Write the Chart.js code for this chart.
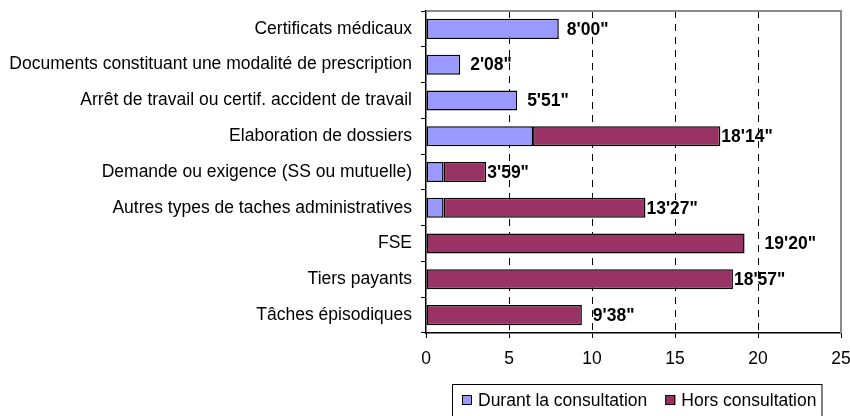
<!DOCTYPE html>
<html>
<head>
<meta charset="utf-8">
<script src="https://cdn.jsdelivr.net/npm/chart.js@4.4.0/dist/chart.umd.min.js"></script>
<style>
  html, body { margin: 0; padding: 0; background: #fff; }
  #wrap { width: 850px; height: 416px; }
</style>
</head>
<body>
<div id="wrap"><canvas id="myChart" width="850" height="416"></canvas></div>
<script>
const categories = [
  "Certificats médicaux",
  "Documents constituant une modalité de prescription",
  "Arrêt de travail ou certif. accident de travail",
  "Elaboration de dossiers",
  "Demande ou exigence (SS ou mutuelle)",
  "Autres types de taches administratives",
  "FSE",
  "Tiers payants",
  "Tâches épisodiques",
];
// minutes
const durant = [8.0, 2.06, 5.49, 6.45, 1.06, 1.06, 0, 0, 0];
const hors = [0, 0, 0, 11.28, 2.57, 12.16, 19.19, 18.49, 9.39];
const totalLabels = ["8'00\"", "2'08\"", "5'51\"", "18'14\"", "3'59\"", "13'27\"", "19'20\"", "18'57\"", "9'38\""];
const xTicks = [0, 5, 10, 15, 20, 25];

const FONT = "'Liberation Sans', Arial, sans-serif";
const FSIZE = 17.5;

// étiquettes des totaux au bout des barres
const totalsPlugin = {
  id: "totals",
  afterDatasetsDraw(chart, args, opts) {
    const ctx = chart.ctx;
    const x = chart.scales.x;
    const y = chart.scales.y;
    ctx.save();
    ctx.font = "bold " + FSIZE + "px " + FONT;
    ctx.fillStyle = "#000";
    ctx.textBaseline = "middle";
    ctx.textAlign = "left";
    for (let i = 0; i < categories.length; i++) {
      const end = x.getPixelForValue(durant[i] + hors[i]);
      ctx.fillText(totalLabels[i], end + opts.gaps[i], y.getPixelForValue(i) + 1);
    }
    ctx.restore();
  },
};

// bordure grise haut/droite de la zone de tracé
const framePlugin = {
  id: "frame",
  beforeDatasetsDraw(chart) {
    const a = chart.chartArea;
    const ctx = chart.ctx;
    ctx.save();
    ctx.strokeStyle = "#8c8c8c";
    ctx.lineWidth = 2;
    ctx.beginPath();
    ctx.moveTo(a.left, a.top);
    ctx.lineTo(a.right, a.top);
    ctx.lineTo(a.right, a.bottom);
    ctx.stroke();
    ctx.restore();
  },
};

// légende encadrée en bas à droite
const legendPlugin = {
  id: "boxLegend",
  afterDraw(chart, args, opts) {
    const ctx = chart.ctx;
    ctx.save();
    ctx.font = FSIZE + "px " + FONT;
    const widths = chart.data.datasets.map(d => ctx.measureText(d.label).width);
    const total = 10 + widths.reduce((s, w) => s + 16 + w, 0) + 18 * (widths.length - 1) + 5;
    ctx.strokeStyle = "#000";
    ctx.lineWidth = 1;
    ctx.strokeRect(opts.left + 0.5, opts.top + 0.5, total, 40);
    let x = opts.left + 10;
    const cy = opts.top + 16;
    chart.data.datasets.forEach((d, i) => {
      ctx.fillStyle = d.backgroundColor;
      ctx.fillRect(x, cy - 5, 10, 10);
      ctx.strokeStyle = "#000";
      ctx.strokeRect(x + 0.5, cy - 4.5, 9, 9);
      ctx.fillStyle = "#000";
      ctx.textBaseline = "middle";
      ctx.fillText(d.label, x + 16, cy + 1);
      x += 16 + widths[i] + 18;
    });
    ctx.restore();
  },
};

const ctx = document.getElementById("myChart");

new Chart(ctx, {
  type: "bar",
  data: {
    labels: categories,
    datasets: [
      {
        label: "Durant la consultation",
        data: durant,
        backgroundColor: "#9999ff",
        borderColor: "#000",
        borderWidth: 1.5,
        borderSkipped: false,
        barPercentage: 0.56,
        categoryPercentage: 1,
      },
      {
        label: "Hors consultation",
        data: hors,
        backgroundColor: "#993366",
        borderColor: "#000",
        borderWidth: 1.5,
        borderSkipped: false,
        barPercentage: 0.56,
        categoryPercentage: 1,
      },
    ],
  },
  plugins: [framePlugin, totalsPlugin, legendPlugin],
  options: {
    indexAxis: "y",
    responsive: false,
    animation: false,
    devicePixelRatio: 1,
    layout: { padding: { top: 11, right: 9, bottom: 48, left: 0 } },
    plugins: {
      legend: { display: false },
      tooltip: { enabled: false },
      totals: { gaps: [8, 10, 10, 1, 1, 1, 20, 1, 11] },
      boxLegend: { left: 452, top: 384 },
    },
    scales: {
      x: {
        stacked: true,
        min: 0,
        max: 25,
        afterBuildTicks(scale) {
          scale.ticks = xTicks.map(v => ({ value: v }));
        },
        afterFit(scale) {
          scale.height = 35;
          scale.paddingLeft = 0;
          scale.paddingRight = 0;
        },
        grid: {
          color: c => (c.tick && (c.tick.value === 0 || c.tick.value === 25) ? "rgba(0,0,0,0)" : "#000"),
          lineWidth: 1,
          drawTicks: true,
          tickLength: 5,
          tickColor: "#000",
        },
        border: { display: true, color: "#000", width: 1.5, dash: [7, 6] },
        ticks: {
          color: "#000",
          font: { family: FONT, size: FSIZE },
          padding: 11,
          maxRotation: 0,
        },
      },
      y: {
        stacked: true,
        afterFit(scale) {
          scale.width = 426;
          scale.paddingTop = 0;
          scale.paddingBottom = 0;
        },
        grid: {
          drawOnChartArea: false,
          drawTicks: true,
          tickLength: 5,
          tickColor: "#000",
          offset: true,
        },
        border: { display: true, color: "#000", width: 1.5 },
        ticks: {
          color: "#000",
          font: { family: FONT, size: FSIZE },
          padding: 9,
          autoSkip: false,
        },
      },
    },
  },
});
</script>
</body>
</html>
